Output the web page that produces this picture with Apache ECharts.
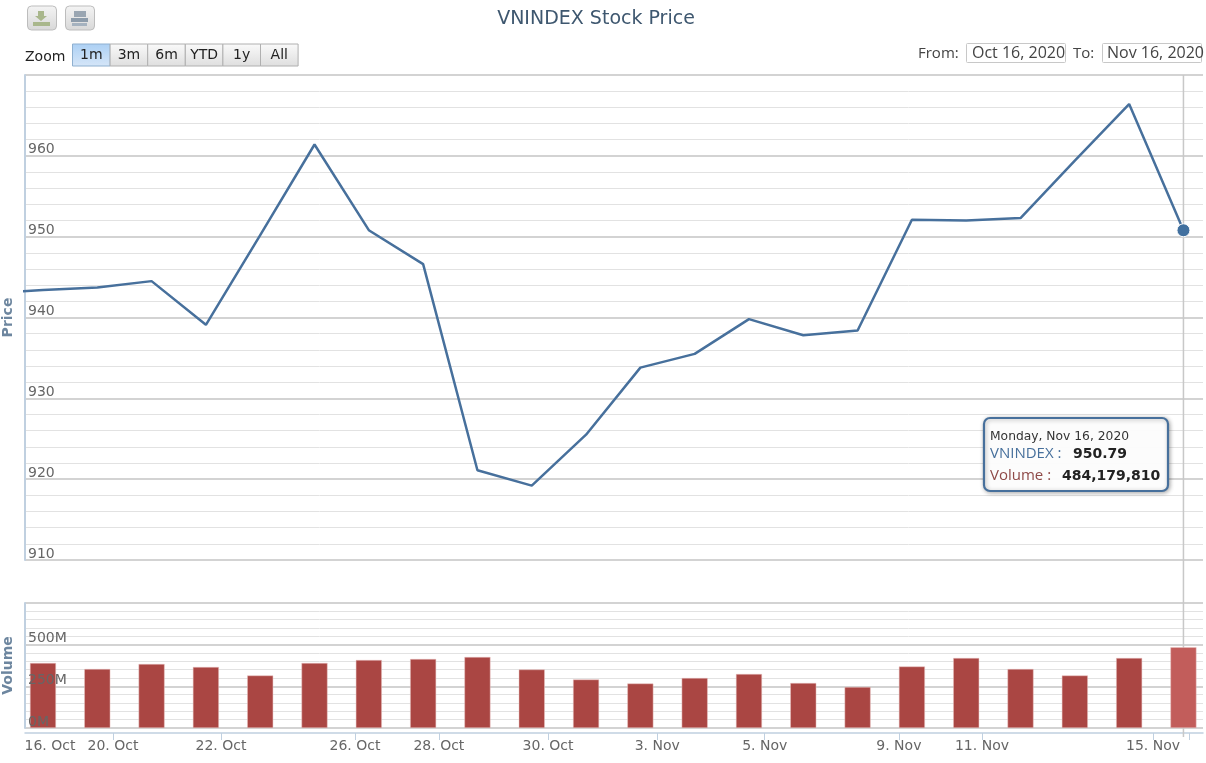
<!DOCTYPE html>
<html><head><meta charset="utf-8">
<style>html,body{margin:0;padding:0;background:#fff}#c{width:1206px;height:763px}</style>
<script src="https://cdn.jsdelivr.net/npm/echarts@6/dist/echarts.min.js"></script>
</head><body><div id="c"></div>
<script>
const categories = ["16 Oct","19 Oct","20 Oct","21 Oct","22 Oct","23 Oct","26 Oct","27 Oct","28 Oct","29 Oct","30 Oct","2 Nov","3 Nov","4 Nov","5 Nov","6 Nov","9 Nov","10 Nov","11 Nov","12 Nov","13 Nov","16 Nov"];
const priorClose = 943.0;
const price = [943.4,943.7,944.5,939.1,950.2,961.4,950.8,946.6,921.1,919.2,925.5,933.8,935.5,939.8,937.8,938.4,952.1,952.0,952.3,959.4,966.4,950.79];
const volume = [390,354,384,366,315,390,408,414,426,351,291,267,300,324,270,246,369,420,354,315,420,484.17981];
const tickLabels = ["16. Oct","20. Oct","22. Oct","26. Oct","28. Oct","30. Oct","3. Nov","5. Nov","9. Nov","11. Nov","15. Nov"];
const tickLabelAt = [0.129,1.289,3.278,5.745,7.29,9.30,11.31,13.29,15.76,17.29,20.44];
const tickMarkAt = [1.289,3.278,5.745,7.29,9.30,11.31,13.29,15.76,17.29,20.44,21.10];
const zoomButtons = ["1m","3m","6m","YTD","1y","All"];
const tipDate = "Monday, Nov 16, 2020";
const tipVolume = "484,179,810";

const FONT = '"DejaVu Sans", sans-serif';
const UI = '"Open Sans", sans-serif';
const LINE = '#47709c', AXIS = '#c0d0e0', MAJOR = '#c4c4c4', MINOR = '#e2e2e2';
const last = price.length - 1;
const xRange = {min: -0.331, max: 21.36};

function gridAxis(extra){
  return Object.assign({
    type:'value', z:0, nameLocation:'middle', nameGap:10, nameRotate:90,
    nameTextStyle:{color:'#6d869f',fontWeight:'bold',fontSize:14,fontFamily:FONT},
    axisLine:{show:true,onZero:false,lineStyle:{color:AXIS,width:2}},
    axisTick:{show:false},
    axisLabel:{show:false},
    splitLine:{show:true,lineStyle:{color:MAJOR,width:1.5}},
    minorSplitLine:{show:true,lineStyle:{color:MINOR,width:1}},
    minorTick:{show:false,splitNumber:5}
  },extra);
}
function labelAxis(extra,fmt){
  return Object.assign({
    type:'value', z:5, position:'left',
    axisLine:{show:false,onZero:false}, axisTick:{show:false}, splitLine:{show:false},
    axisLabel:{show:true,inside:true,margin:3,verticalAlign:'bottom',padding:[0,0,-1,0],color:'#666',fontSize:14,fontFamily:FONT,showMaxLabel:false,formatter:fmt}
  },extra);
}

const chart = echarts.init(document.getElementById('c'),null,{renderer:'canvas'});
chart.setOption({
  animation:false,
  backgroundColor:'#fff',
  title:{text:'VNINDEX Stock Price',left:591,top:5,textAlign:'center',
    textStyle:{color:'#3e576f',fontSize:19,fontWeight:'normal',fontFamily:FONT}},
  grid:[{left:25,right:3,top:75,height:485,outerBoundsMode:'none'},{left:25,right:3,top:603,height:125,outerBoundsMode:'none'}],
  xAxis:[
    Object.assign({type:'value',gridIndex:0,show:false},xRange),
    Object.assign({type:'value',gridIndex:1,offset:5},xRange,{
      axisLine:{show:true,onZero:false,lineStyle:{color:AXIS,width:1.5}},
      axisTick:{show:true,length:7,lineStyle:{color:AXIS},customValues:tickMarkAt},
      axisLabel:{color:'#666',fontSize:14,fontFamily:FONT,margin:6,
        customValues:tickLabelAt,
        formatter:v=>tickLabels[tickLabelAt.indexOf(v)]},
      splitLine:{show:false}
    })
  ],
  yAxis:[
    gridAxis({gridIndex:0,min:910,max:970,interval:10,name:'Price'}),
    gridAxis({gridIndex:1,min:0,max:750,interval:250,name:'Volume'}),
    labelAxis({gridIndex:0,min:910,max:970,interval:10},v=>String(v)),
    labelAxis({gridIndex:1,min:0,max:750,interval:250},v=>v+'M')
  ],
  series:[
    {type:'line',name:'VNINDEX',xAxisIndex:0,yAxisIndex:0,symbol:'none',z:3,
      lineStyle:{color:LINE,width:2.5},
      data:[[-1,priorClose]].concat(price.map((v,i)=>[i,v]))},
    {type:'scatter',xAxisIndex:0,yAxisIndex:0,symbolSize:13,z:4,
      itemStyle:{color:'#41709f',borderColor:'#fff',borderWidth:1,opacity:1},
      data:[[last,price[last]]]},
    {type:'bar',name:'Volume',xAxisIndex:1,yAxisIndex:1,barWidth:26,z:2,
      data:volume.map((v,i)=>({value:[i,v],itemStyle:{
        color:i===last?'#c25d5b':'#aa4643',borderColor:'#e8c4c3',borderWidth:0.5}}))}
  ]
});

const xPix = chart.convertToPixel({xAxisIndex:1},last);
const g = [];
g.push({type:'line',z:1,silent:true,shape:{x1:xPix,y1:75,x2:xPix,y2:737},style:{stroke:'#c8c8c8',lineWidth:1.5}});

// export buttons
function iconBtn(x){
  g.push({type:'rect',z:10,shape:{x:x,y:6,width:29,height:24,r:4},
    style:{fill:new echarts.graphic.LinearGradient(0,0,0,1,[{offset:0,color:'#f4f4f4'},{offset:1,color:'#d8d8d8'}]),stroke:'#bdbdbd',lineWidth:1}});
}
iconBtn(27.5); iconBtn(65.5);
g.push({type:'polygon',z:11,shape:{points:[[38,11],[44,11],[44,16],[47,16],[41,21],[35,16],[38,16]]},style:{fill:'#a9b78c'}});
g.push({type:'rect',z:11,shape:{x:33,y:22,width:17,height:4},style:{fill:'#a9b78c'}});
g.push({type:'rect',z:11,shape:{x:74,y:11,width:12,height:6},style:{fill:'#9aa6b2'}});
g.push({type:'rect',z:11,shape:{x:71,y:18,width:17,height:4},style:{fill:'#8d9cab'}});
g.push({type:'rect',z:11,shape:{x:72,y:23,width:15,height:3},style:{fill:'#a5b2bf'}});

// range selector
g.push({type:'text',z:11,style:{x:25,y:57,text:'Zoom',fill:'#222',font:'14px '+FONT,textVerticalAlign:'middle'}});
zoomButtons.forEach((b,i)=>{
  const x = 72.5 + i*37.6, on = i===0;
  g.push({type:'rect',z:10,shape:{x:x,y:44,width:37.6,height:22},
    style:{fill:new echarts.graphic.LinearGradient(0,0,0,1,on?[{offset:0,color:'#acd0f4'},{offset:1,color:'#d6e6f8'}]:[{offset:0,color:'#fafafa'},{offset:1,color:'#dedede'}]),
    stroke:on?'#8fb0d0':'#b0b0b0',lineWidth:1}});
  g.push({type:'text',z:11,style:{x:x+18.8,y:55.5,text:b,fill:'#222',font:'14px '+FONT,textAlign:'center',textVerticalAlign:'middle'}});
});

// date inputs
g.push({type:'text',z:11,style:{x:918,y:54,text:'From:',fill:'#444',font:'15px '+UI,textVerticalAlign:'middle'}});
g.push({type:'text',z:11,style:{x:1073,y:54,text:'To:',fill:'#444',font:'15px '+UI,textVerticalAlign:'middle'}});
g.push({type:'rect',z:10,shape:{x:966.5,y:43.5,width:99,height:19,r:1},style:{fill:'#fff',stroke:'#c8c8c8',lineWidth:1}});
g.push({type:'rect',z:10,shape:{x:1102.5,y:43.5,width:99,height:19,r:1},style:{fill:'#fff',stroke:'#c8c8c8',lineWidth:1}});
g.push({type:'text',z:11,style:{x:972,y:53.5,text:'Oct 16, 2020',fill:'#444',font:'16px '+UI,textVerticalAlign:'middle'}});
g.push({type:'text',z:11,style:{x:1107,y:53.5,text:'Nov 16, 2020',fill:'#444',font:'16px '+UI,textVerticalAlign:'middle'}});

// tooltip
g.push({type:'rect',z:20,shape:{x:984,y:418,width:184,height:73,r:6},
  style:{fill:'rgba(255,255,255,0.96)',stroke:'#47709c',lineWidth:2.2,shadowBlur:4,shadowOffsetX:1,shadowOffsetY:1,shadowColor:'rgba(0,0,0,0.3)'}});
g.push({type:'text',z:21,style:{x:990,y:436.5,text:tipDate,fill:'#333',font:'12.3px '+FONT,textVerticalAlign:'middle'}});
g.push({type:'text',z:21,style:{x:990,y:454,text:'VNINDEX :',fill:'#47709c',font:'15px '+UI,textVerticalAlign:'middle'}});
g.push({type:'text',z:21,style:{x:1073,y:454,text:price[last].toFixed(2),fill:'#222',font:'bold 14px '+FONT,textVerticalAlign:'middle'}});
g.push({type:'text',z:21,style:{x:990,y:476,text:'Volume :',fill:'#8f4a48',font:'15px '+UI,textVerticalAlign:'middle'}});
g.push({type:'text',z:21,style:{x:1062,y:476,text:tipVolume,fill:'#222',font:'bold 14px '+FONT,textVerticalAlign:'middle'}});
chart.setOption({graphic:g});
</script></body></html>
